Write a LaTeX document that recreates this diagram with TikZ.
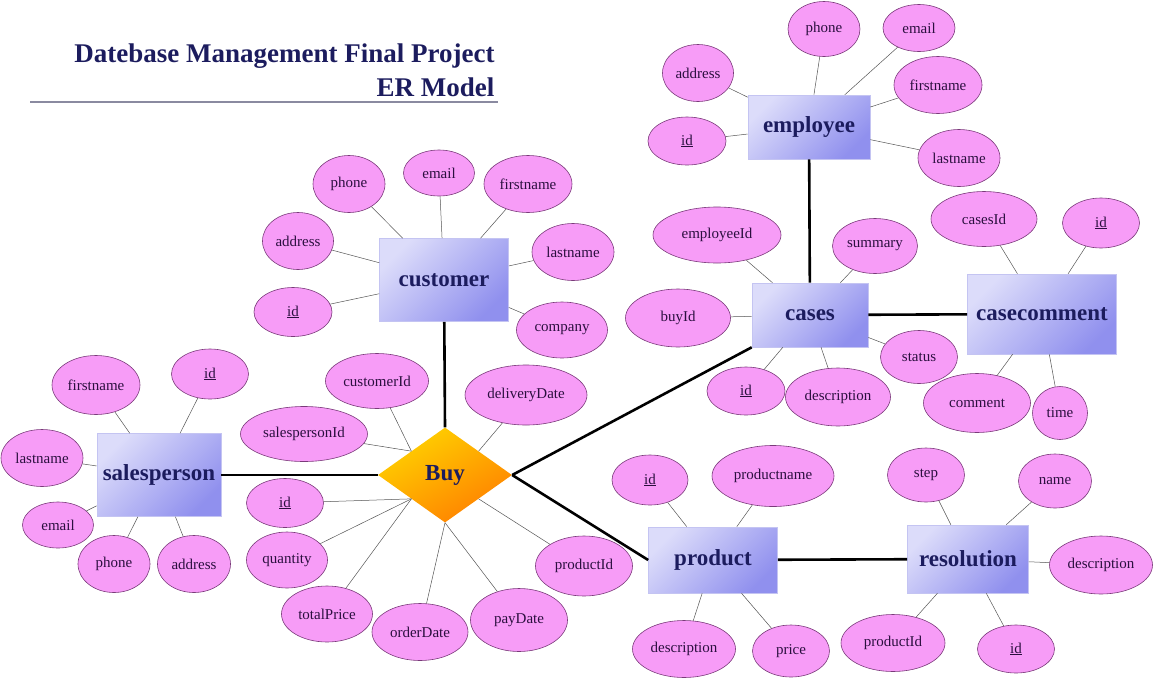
\documentclass[tikz,border=0pt]{standalone}
\usepackage{fontspec}
\setmainfont{Liberation Serif}
\usetikzlibrary{shapes.geometric}
\definecolor{navy}{HTML}{1C1C5E}
\definecolor{entlight}{HTML}{DCDCFA}
\definecolor{entdark}{HTML}{9090EE}
\definecolor{entedge}{HTML}{C4C4F2}
\definecolor{attrpink}{HTML}{F79CF7}
\definecolor{attredge}{HTML}{7A3A7A}
\definecolor{attrtext}{HTML}{2B0F3F}
\definecolor{buygold}{HTML}{FFD200}
\definecolor{buyorange}{HTML}{FF8000}
\definecolor{linegray}{HTML}{555555}
\definecolor{rulegray}{HTML}{8A8AA0}

\begin{document}
\begin{tikzpicture}[
  x=1pt, y=-1pt,
  entity/.style 2 args={
    rectangle, top color=entlight, bottom color=entdark, shading angle=45,
    draw=entedge, line width=0.6pt, minimum width=#1pt, minimum height=#2pt,
    font=\fontsize{23}{26}\selectfont\bfseries, text=navy, inner sep=2pt
  },
  attr/.style 2 args={
    ellipse, fill=attrpink, draw=attredge, line width=0.6pt,
    minimum width=#1pt, minimum height=#2pt, inner sep=0pt,
    font=\fontsize{15}{18}\selectfont, text=attrtext
  },
  relation/.style={
    diamond, top color=buygold, bottom color=buyorange, shading angle=30,
    minimum width=134pt, minimum height=95pt, inner sep=0pt,
    font=\fontsize{23}{26}\selectfont\bfseries, text=navy
  },
  link/.style={line width=2.6pt, black},
  attrline/.style={line width=0.5pt, linegray},
  titletext/.style={font=\fontsize{27}{30}\selectfont\bfseries, text=navy, anchor=base east},
]

\useasboundingbox (0,0) rectangle (1154,678);

% Title
\node[titletext] (title1) at (498,62) {Datebase Management Final Project};
\node[titletext] (title2) at (498,96) {ER Model};
\draw[rulegray, line width=1.2pt] (30,102) -- (498,102);

% ---- Entities ----
\node[entity={122}{64}]  (employee)    at (809,127)  {employee};
\node[entity={129}{83}]  (customer)    at (444,280)  {customer};
\node[entity={116}{64}]  (cases)       at (810,315)  {cases};
\node[entity={149}{80}]  (casecomment) at (1042,314) {casecomment};
\node[entity={124}{83}]  (salesperson) at (159,475)  {salesperson};
\node[entity={129}{66}]  (product)     at (713,560)  {product};
\node[entity={121}{68}]  (resolution)  at (968,559)  {resolution};
\node[relation]          (buy)         at (445,475)  {Buy};

% ---- Relationship lines ----
\draw[link] (employee) -- (cases);
\draw[link] (customer) -- (buy.north);
\draw[link] (salesperson) -- (buy.west);
\draw[link] (buy.east) -- (cases.south west);
\draw[link] (buy.east) -- (product.west);
\draw[link] (cases) -- (casecomment);
\draw[link] (product) -- (resolution);

% ---- employee attributes ----
\node[attr={72}{55}] (empphone)   at (824,29)  {phone};
\node[attr={72}{47}] (empemail)   at (919,28)  {email};
\node[attr={71}{57}] (empaddress) at (698,73)  {address};
\node[attr={88}{57}] (empfirst)   at (938,85)  {firstname};
\node[attr={78}{48}] (empid)      at (687,141) {\underline{id}};
\node[attr={82}{57}] (emplast)    at (959,158) {lastname};
\foreach \a in {empphone, empemail, empaddress, empfirst, empid, emplast} {
  \draw[attrline] (\a) -- (employee);
}

% ---- customer attributes ----
\node[attr={72}{57}] (cusphone)   at (349,184) {phone};
\node[attr={71}{46}] (cusemail)   at (439,173) {email};
\node[attr={88}{57}] (cusfirst)   at (528,184) {firstname};
\node[attr={71}{57}] (cusaddress) at (298,241) {address};
\node[attr={82}{57}] (cuslast)    at (573,252) {lastname};
\node[attr={78}{49}] (cusid)      at (293,312) {\underline{id}};
\node[attr={91}{56}] (cuscompany) at (562,330) {company};
\foreach \a in {cusphone, cusemail, cusfirst, cusaddress, cuslast, cusid, cuscompany} {
  \draw[attrline] (\a) -- (customer);
}

% ---- cases attributes ----
\node[attr={128}{56}] (casempid)   at (717,235) {employeeId};
\node[attr={85}{55}]  (cassummary) at (875,246) {summary};
\node[attr={105}{58}] (casbuyid)   at (678,318) {buyId};
\node[attr={77}{53}]  (casstatus)  at (919,357) {status};
\node[attr={78}{48}]  (casid)      at (746,391) {\underline{id}};
\node[attr={105}{58}] (casdesc)    at (838,397) {description};
\foreach \a in {casempid, cassummary, casbuyid, casstatus, casid, casdesc} {
  \draw[attrline] (\a) -- (cases);
}

% ---- casecomment attributes ----
\node[attr={106}{55}] (cccasesid) at (984,219)  {casesId};
\node[attr={77}{50}]  (ccid)      at (1101,223) {\underline{id}};
\node[attr={107}{59}] (cccomment) at (977,403)  {comment};
\node[attr={55}{53}]  (cctime)    at (1060,413) {time};
\foreach \a in {cccasesid, ccid, cccomment, cctime} {
  \draw[attrline] (\a) -- (casecomment);
}

% ---- Buy attributes ----
\node[attr={103}{55}] (buycustid)   at (377,381) {customerId};
\node[attr={122}{60}] (buydelivery) at (526,395) {deliveryDate};
\node[attr={127}{55}] (buysalesid)  at (304,434) {salespersonId};
\node[attr={77}{49}]  (buyid)       at (285,503) {\underline{id}};
\node[attr={81}{56}]  (buyqty)      at (287,560) {quantity};
\node[attr={91}{56}]  (buytotal)    at (327,614) {totalPrice};
\node[attr={96}{57}]  (buyorder)    at (420,632) {orderDate};
\node[attr={97}{63}]  (buypay)      at (519,620) {payDate};
\node[attr={97}{60}]  (buyprodid)   at (584,566) {productId};
\foreach \a/\p in {buycustid/north west, buysalesid/north west, buydelivery/north east,
                   buyid/south west, buyqty/south west, buytotal/south west,
                   buyorder/south, buypay/south, buyprodid/south east} {
  \draw[attrline] (\a) -- (buy.\p);
}

% ---- salesperson attributes ----
\node[attr={88}{59}] (spfirst)   at (96,385)  {firstname};
\node[attr={77}{50}] (spid)      at (210,374) {\underline{id}};
\node[attr={82}{57}] (splast)    at (42,458)  {lastname};
\node[attr={71}{46}] (spemail)   at (58,525)  {email};
\node[attr={72}{57}] (spphone)   at (114,564) {phone};
\node[attr={73}{57}] (spaddress) at (194,564) {address};
\foreach \a in {spfirst, spid, splast, spemail, spphone, spaddress} {
  \draw[attrline] (\a) -- (salesperson);
}

% ---- product attributes ----
\node[attr={76}{50}]  (prid)    at (650,480) {\underline{id}};
\node[attr={122}{61}] (prname)  at (773,476) {productname};
\node[attr={103}{57}] (prdesc)  at (684,649) {description};
\node[attr={77}{52}]  (prprice) at (791,651) {price};
\foreach \a in {prid, prname, prdesc, prprice} {
  \draw[attrline] (\a) -- (product);
}

% ---- resolution attributes ----
\node[attr={77}{54}]  (restep)   at (926,475)  {step};
\node[attr={73}{54}]  (rename)   at (1055,481) {name};
\node[attr={103}{58}] (redesc)   at (1101,565) {description};
\node[attr={104}{57}] (reprodid) at (893,643)  {productId};
\node[attr={77}{48}]  (reid)     at (1016,649) {\underline{id}};
\foreach \a in {restep, rename, redesc, reprodid, reid} {
  \draw[attrline] (\a) -- (resolution);
}

\end{tikzpicture}
\end{document}
